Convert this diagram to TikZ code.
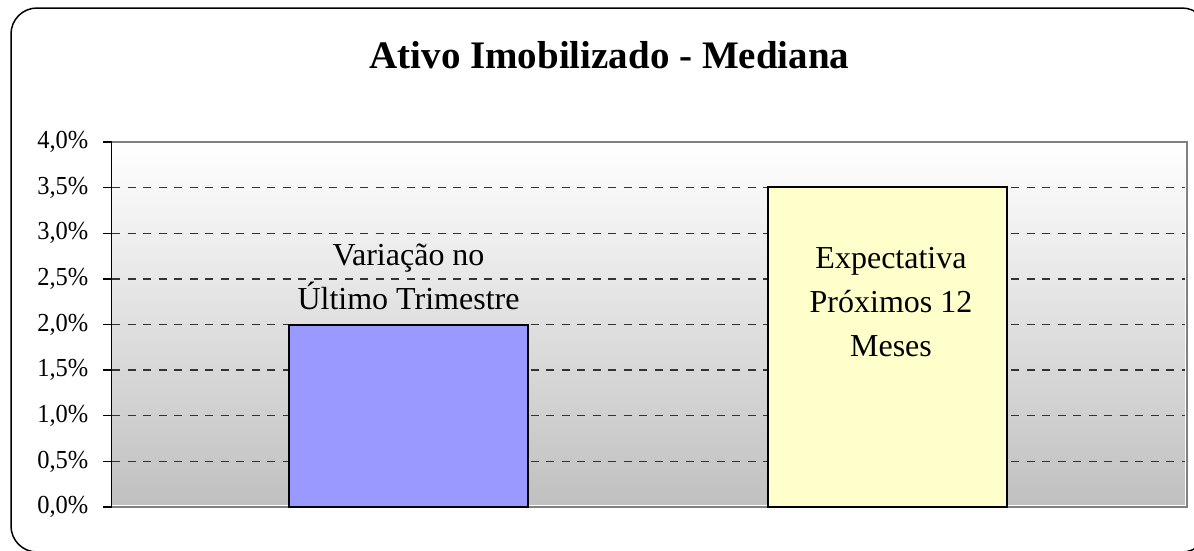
\documentclass[tikz,border=0pt]{standalone}
\usepackage{fontspec}
\setmainfont{Liberation Serif}
\begin{document}
\begin{tikzpicture}[x=1pt,y=-1pt,
  frame/.style={draw=black,line width=1.5pt,rounded corners=26pt},
  gridline/.style={draw=black!80,line width=1.2pt,dash pattern=on 8pt off 7.5pt},
  tick/.style={draw=black,line width=1.3pt},
  ticklabel/.style={anchor=east,inner sep=0pt,font=\fontsize{24.5}{29}\selectfont},
  bar/.style={draw=black,line width=2pt},
  barlabel/.style={anchor=base,inner sep=0pt,font=\fontsize{32}{38}\selectfont},
  title/.style={anchor=base,inner sep=0pt,font=\fontsize{39}{46}\selectfont\bfseries}]
\useasboundingbox (0,0) rectangle (1194,550);
\clip (0,0) rectangle (1194,550);
\fill[white] (0,0) rectangle (1194,550);
% frame
\draw[frame] (11,8) rectangle (1208,552);
% title
\node[title] (title) at (609.5,68) {Ativo Imobilizado - Mediana};
% plot area
\shade[top color=white,bottom color=black!25] (112,142) rectangle (1187,507);
% grid lines
\foreach \y in {461.5,415.5,370,324.5,279,233.5,187.5} {
  \draw[gridline] (112,\y) -- (1187,\y);
}
% plot border
\draw[white,line width=1pt] (112,505.5) -- (1185.5,505.5) -- (1185.5,142);
\draw[black!50,line width=2pt] (112,142) -- (1187,142) -- (1187,507) -- (112,507);
% bars
\filldraw[bar,fill={rgb,255:red,153;green,153;blue,255}] (289,324.5) rectangle (528,507) node[pos=0.5] (bar1) {};
\filldraw[bar,fill={rgb,255:red,255;green,255;blue,204}] (768,187) rectangle (1007,507) node[pos=0.5] (bar2) {};
% y axis
\draw[tick] (111.5,142) -- (111.5,507);
\foreach \i/\lab in {0/{0,0\%},1/{0,5\%},2/{1,0\%},3/{1,5\%},4/{2,0\%},5/{2,5\%},6/{3,0\%},7/{3,5\%},8/{4,0\%}} {
  \draw[tick] (103,{507-\i*45.625}) -- (112,{507-\i*45.625});
  \node[ticklabel,yscale=1.06] (t\i) at (88.5,{507-\i*45.625}) {\lab};
}
% bar labels
\node[barlabel] (l1a) at (408.5,265) {Variação no};
\node[barlabel] (l1b) at (408.5,309) {Último Trimestre};
\node[barlabel] (l2a) at (891,268) {Expectativa};
\node[barlabel] (l2b) at (891,312) {Próximos 12};
\node[barlabel] (l2c) at (891,356) {Meses};
\end{tikzpicture}
\end{document}
